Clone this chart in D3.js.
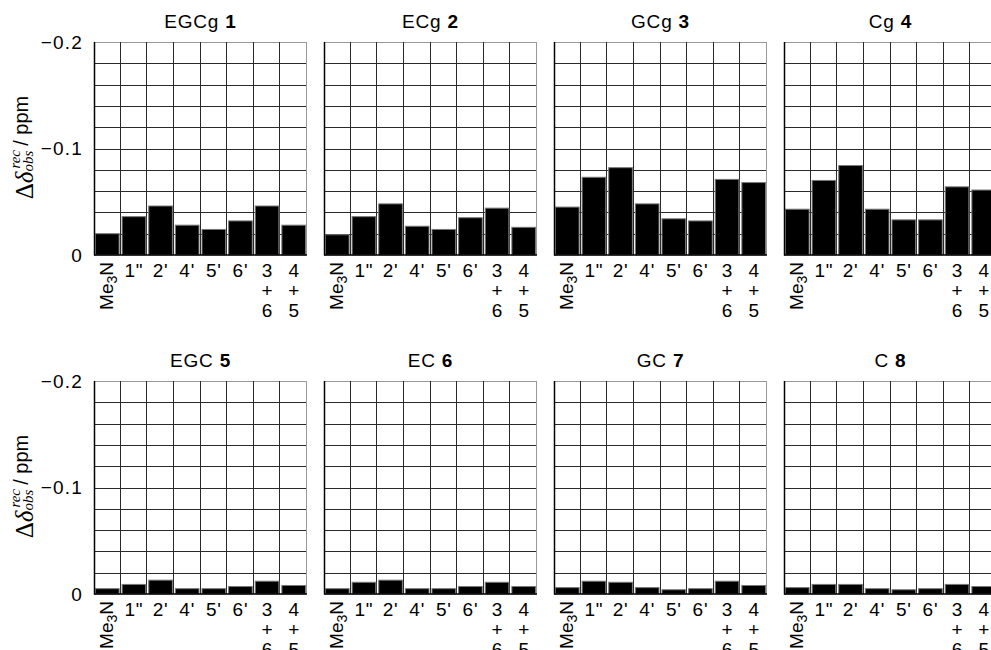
<!DOCTYPE html>
<html>
<head>
<meta charset="utf-8">
<script src="https://cdn.jsdelivr.net/npm/d3@7"></script>
<style>
  body { margin: 0; background: #fff; }
  svg { display: block; }
  text { font-family: "Liberation Sans", Arial, Helvetica, sans-serif; fill: #000; }
</style>
</head>
<body>
<div id="chart"></div>
<script>
// proton positions on the x axis (same for every panel)
var positions = ['Me3N', '1"', "2'", "4'", "5'", "6'", '3+6', '4+5']

// panel titles: compound name + bold compound number
var compoundNames = ['EGCg', 'ECg', 'GCg', 'Cg', 'EGC', 'EC', 'GC', 'C']
var compoundNums = ['1', '2', '3', '4', '5', '6', '7', '8']

// observed shift changes (ppm), one value per position
var shiftEGCg = [-0.020, -0.036, -0.046, -0.028, -0.024, -0.032, -0.046, -0.028]
var shiftECg = [-0.019, -0.036, -0.048, -0.027, -0.024, -0.035, -0.044, -0.026]
var shiftGCg = [-0.045, -0.073, -0.082, -0.048, -0.034, -0.032, -0.071, -0.068]
var shiftCg = [-0.043, -0.070, -0.084, -0.043, -0.033, -0.033, -0.064, -0.061]
var shiftEGC = [-0.005, -0.009, -0.013, -0.005, -0.005, -0.007, -0.012, -0.008]
var shiftEC = [-0.005, -0.011, -0.013, -0.005, -0.005, -0.007, -0.011, -0.007]
var shiftGC = [-0.006, -0.012, -0.011, -0.006, -0.004, -0.005, -0.012, -0.008]
var shiftC = [-0.006, -0.009, -0.009, -0.005, -0.004, -0.005, -0.009, -0.007]

var allShifts = [shiftEGCg, shiftECg, shiftGCg, shiftCg, shiftEGC, shiftEC, shiftGC, shiftC]

// y axis labels
var yTickValues = [-0.2, -0.1, 0]

// layout settings
var layout = {
  left: 94,
  top: 42,
  colStep: 230,
  rowStep: 339,
  width: 213,
  height: 213,
  fontSize: 19
}

var serif = '"Liberation Serif", "Times New Roman", serif'

var svg = d3.select('#chart')
  .append('svg')
  .attr('width', 991)
  .attr('height', 650)

var x = d3.scaleBand().domain(positions).range([0, layout.width])
var y = d3.scaleLinear().domain([0, -0.2]).range([layout.height, 0])

function tickFormat (d) {
  return d === 0 ? '0' : d3.format('.1f')(d)
}

compoundNames.forEach(function (name, i) {
  var col = i % 4
  var row = Math.floor(i / 4)
  var data = allShifts[i]

  var g = svg.append('g')
    .attr('transform', 'translate(' + (layout.left + col * layout.colStep) + ',' + (layout.top + row * layout.rowStep) + ')')

  // horizontal grid lines every 0.02 ppm
  g.append('g').selectAll('line')
    .data(y.ticks(10).filter(function (d) { return d !== 0 }))
    .enter()
    .append('line')
    .attr('x1', 0)
    .attr('x2', layout.width)
    .attr('y1', function (d) { return Math.round(y(d)) + 0.5 })
    .attr('y2', function (d) { return Math.round(y(d)) + 0.5 })
    .attr('stroke', function (d) { return Math.abs(d + 0.2) < 1e-9 ? '#999' : '#2a2a2a' })
    .attr('stroke-width', 1)

  // vertical grid lines between positions, plus right border
  var vx = positions.slice(1).map(function (p) { return x(p) }).concat([layout.width])
  g.append('g').selectAll('line')
    .data(vx)
    .enter()
    .append('line')
    .attr('x1', function (d) { return Math.round(d) - 0.5 })
    .attr('x2', function (d) { return Math.round(d) - 0.5 })
    .attr('y1', 0)
    .attr('y2', layout.height)
    .attr('stroke', function (d, k) { return k === vx.length - 1 ? '#999' : '#2a2a2a' })
    .attr('stroke-width', 1)

  // bars
  g.append('g').selectAll('rect')
    .data(data)
    .enter()
    .append('rect')
    .attr('x', function (d, k) { return x(positions[k]) + 1.5 })
    .attr('width', x.bandwidth() - 3)
    .attr('y', function (d) { return y(d) })
    .attr('height', function (d) { return y(0) - y(d) })
    .attr('fill', '#000')
    .attr('stroke', '#777')
    .attr('stroke-width', 1)

  // left and bottom axis lines
  g.append('line')
    .attr('x1', 0.5).attr('x2', 0.5)
    .attr('y1', 0).attr('y2', layout.height + 0.5)
    .attr('stroke', '#000').attr('stroke-width', 1.5)
  g.append('line')
    .attr('x1', 0).attr('x2', layout.width)
    .attr('y1', layout.height).attr('y2', layout.height)
    .attr('stroke', '#000').attr('stroke-width', 1.5)

  // title
  var title = g.append('text')
    .attr('x', layout.width / 2)
    .attr('y', -14)
    .attr('text-anchor', 'middle')
    .style('font-size', layout.fontSize + 'px')
    .style('letter-spacing', '0.8px')
  title.append('tspan').text(name + ' ')
  title.append('tspan').attr('font-weight', 'bold').text(compoundNums[i])

  // x labels
  var xl = g.append('g').attr('transform', 'translate(0,' + layout.height + ')')
  positions.forEach(function (p) {
    var cx = x(p) + x.bandwidth() / 2
    if (p === 'Me3N') {
      var t = xl.append('text')
        .attr('transform', 'translate(' + (cx + 6) + ',7) rotate(-90)')
        .attr('text-anchor', 'end')
        .style('font-size', layout.fontSize + 'px')
      t.append('tspan').text('Me')
      t.append('tspan').attr('dy', 4).style('font-size', '14px').text('3')
      t.append('tspan').attr('dy', -4).text('N')
    } else if (p.indexOf('+') > 0) {
      var parts = p.split('+')
      var lines = [parts[0], '+', parts[1]]
      lines.forEach(function (s, k) {
        xl.append('text')
          .attr('x', cx)
          .attr('y', 22 + k * 20)
          .attr('text-anchor', 'middle')
          .style('font-size', layout.fontSize + 'px')
          .text(s)
      })
    } else {
      xl.append('text')
        .attr('x', cx)
        .attr('y', 22)
        .attr('text-anchor', 'middle')
        .style('font-size', layout.fontSize + 'px')
        .style('letter-spacing', '0.8px')
        .text(p)
    }
  })

  // y tick labels and axis title only on the first column
  if (col === 0) {
    g.append('g').selectAll('text')
      .data(yTickValues)
      .enter()
      .append('text')
      .attr('x', -11)
      .attr('y', function (d) { return y(d) })
      .attr('dy', '0.36em')
      .attr('text-anchor', 'end')
      .style('font-size', layout.fontSize + 'px')
      .style('letter-spacing', '1.2px')
      .text(tickFormat)

    // rotated label: Δδ with stacked sup "rec" and sub "obs", then "/ ppm"
    var lab = g.append('g')
      .attr('transform', 'translate(-61,' + (layout.height / 2 - 1) + ') rotate(-90)')
    var delta = lab.append('text')
      .style('font-family', serif)
      .style('font-size', '25px')
    delta.append('tspan').text('Δ')
    delta.append('tspan').style('font-style', 'italic').text('δ')
    var w0 = delta.node().getComputedTextLength()
    var sup = lab.append('text')
      .attr('y', -13)
      .style('font-family', serif)
      .style('font-style', 'italic')
      .style('font-size', '15px')
      .text('rec')
    var sub = lab.append('text')
      .attr('y', 0)
      .style('font-family', serif)
      .style('font-style', 'italic')
      .style('font-size', '15px')
      .text('obs')
    var w1 = Math.max(sup.node().getComputedTextLength(), sub.node().getComputedTextLength())
    var ppm = lab.append('text')
      .attr('y', -5)
      .style('font-size', '20px')
      .text('/ ppm')
    var w2 = ppm.node().getComputedTextLength()
    var total = w0 + w1 + 5 + w2
    delta.attr('x', -total / 2)
    sup.attr('x', -total / 2 + w0 + 3)
    sub.attr('x', -total / 2 + w0)
    ppm.attr('x', -total / 2 + w0 + w1 + 5)
  }
})
</script>
</body>
</html>
